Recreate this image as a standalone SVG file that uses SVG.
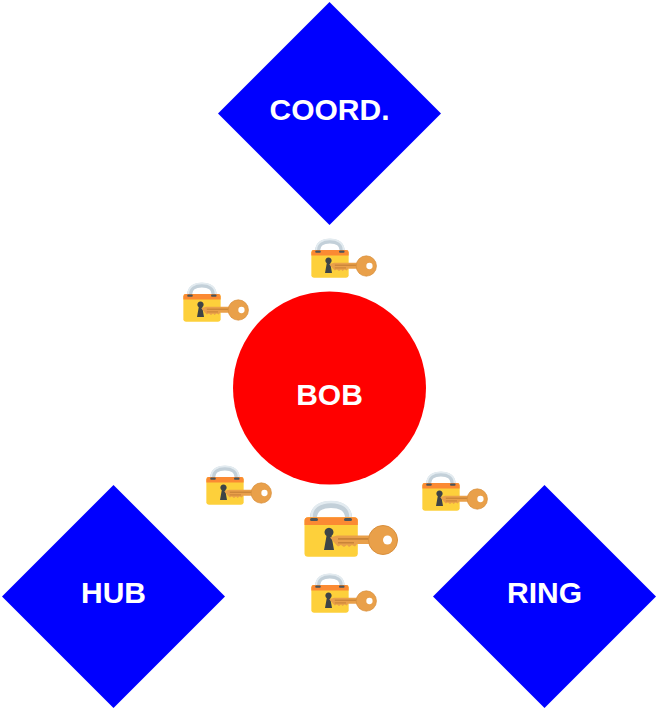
<svg xmlns="http://www.w3.org/2000/svg" width="659" height="710" viewBox="0 0 659 710">
<style>
.hub{fill:#0000ff}
.bob{fill:#ff0000}
text{font-family:"Liberation Sans",Arial,sans-serif;font-size:30px;font-weight:bold;fill:#fff;text-anchor:middle}
</style>
<defs>
<symbol id="lockkey" viewBox="0 0 94 58" width="94" height="58" overflow="visible">
<path d="M9.500 22V18C9.500 9 17 4.500 27 4.500S44.500 9 44.500 18V22" fill="none" stroke="#c3d0d9" stroke-width="7"/>
<path d="M7.500 17C7.500 7 16 2 27 2S46.500 7 46.500 17" fill="none" stroke="#e3ebf0" stroke-width="2.500"/>
<rect x="0.500" y="17.300" width="53.300" height="39.400" rx="3.500" fill="#fdd03b"/>
<path d="M0.500 25V20.800A3.500 3.500 0 0 1 4 17.300H50.300A3.500 3.500 0 0 1 53.800 20.800V25Z" fill="#fb8a33"/>
<rect x="6" y="18" width="8" height="3" rx="1.500" fill="#4b5459"/>
<rect x="40" y="18" width="8" height="3" rx="1.500" fill="#4b5459"/>
<path d="M22.500 36a4.500 4.500 0 1 1 5 0l2.500 14h-10z" fill="#3d4347"/>
<path d="M26 37.500L33 35.500H68V44H53l-2 2.500-3-1.500-3 2-2-2-3 2-3-2-3 1.500-3-3z" fill="#e9a04a"/>
<rect x="34" y="38" width="34" height="1.800" fill="#c98438"/>
<rect x="34" y="42" width="16" height="1.500" fill="#c98438"/>
<circle cx="79" cy="40" r="14.500" fill="#e9a04a" stroke="#d98f3c" stroke-width="1"/>
<circle cx="83.500" cy="40" r="4.500" fill="#fff"/>
</symbol>
</defs>
<g id="connectors"></g>
<g id="node-coord"><polygon class="hub" points="329.500,2 441,113.500 329.500,225 218,113.500"/><text x="329.500" y="120">COORD.</text></g>
<g id="node-hub"><polygon class="hub" points="113.500,485 225,596.500 113.500,708 2,596.500"/><text x="113.500" y="603">HUB</text></g>
<g id="node-ring"><polygon class="hub" points="544.500,485 656,596.500 544.500,708 433,596.500"/><text x="544.500" y="603">RING</text></g>
<g id="node-bob"><circle class="bob" cx="329.500" cy="388" r="96.500"/><text x="329.500" y="405">BOB</text></g>
<g id="icons">
<use href="#lockkey" transform="translate(311 238) scale(.7)"/>
<use href="#lockkey" transform="translate(183 282) scale(.7)"/>
<use href="#lockkey" transform="translate(206 465) scale(.7)"/>
<use href="#lockkey" transform="translate(422 471) scale(.7)"/>
<use href="#lockkey" transform="translate(311 573) scale(.7)"/>
<use href="#lockkey" transform="translate(304 500)"/>
</g>
</svg>
